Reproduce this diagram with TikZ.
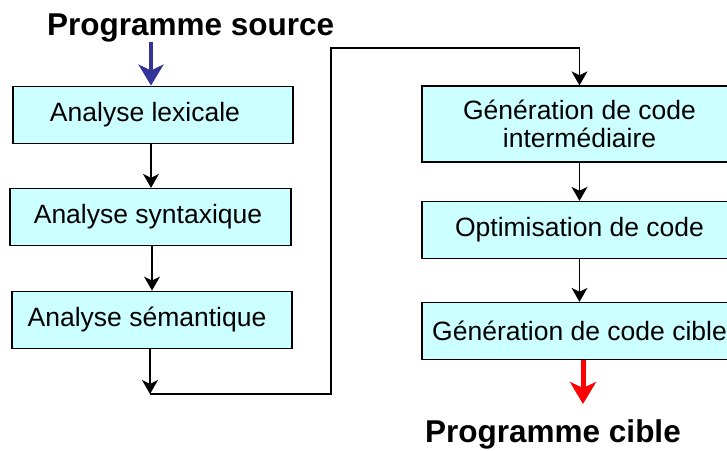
\documentclass[tikz,border=0pt]{standalone}
\usepackage{fontspec}
\setmainfont{Liberation Sans}
\usetikzlibrary{arrows.meta}
\definecolor{phasefill}{RGB}{204,255,255}
\definecolor{srcblue}{RGB}{51,51,153}
\begin{document}
\begin{tikzpicture}[x=1pt, y=-1pt]
% compilation phases, coordinates in pixels
\providecommand{\phaseLineWidth}{1.3pt}
\providecommand{\phaseFontSize}{\fontsize{26.5}{28.5}\selectfont}
\providecommand{\titleFontSize}{\fontsize{31.5}{34}\selectfont\bfseries}
\tikzset{
  phase/.style={draw=black, fill=phasefill, line width=\phaseLineWidth, inner sep=0pt,
    minimum height=57pt, font=\phaseFontSize, align=center},
  flow/.style={draw=black, line width=1.3pt, -{Stealth[length=14pt, width=16pt, inset=4pt]}},
  link/.style={draw=black, line width=1.3pt},
  title/.style={inner sep=0pt, anchor=base west, font=\titleFontSize}
}
\clip (0,0) rectangle (727,450);
\fill[white] (0,0) rectangle (727,450);
% Titles
\node[title] (src) at (47,35) {Programme source};
\node[title] (tgt) at (425,442.5) {Programme cible};
% Left column
\node[phase, minimum width=280pt] (lex) at (153,114.7) {Analyse lexicale\hspace{16pt}};
\node[phase, minimum width=281pt] (syn) at (150.5,217) {Analyse syntaxique\hspace{5pt}};
\node[phase, minimum width=280pt] (sem) at (152,319.7) {Analyse sémantique\hspace{10pt}};
% Right column
\node[phase, minimum width=315pt, minimum height=76pt] (gci) at (579.5,124) {Génération de code\\intermédiaire};
\node[phase, minimum width=315pt] (opt) at (579.5,230) {Optimisation de code};
\node[phase, minimum width=315pt] (gcc) at (579.5,331) {Génération de code cible};
% Turn points of the long connector
\coordinate (srcend) at (151,42);
\coordinate (semend) at (150,394);
\coordinate (bottom) at (331,394);
\coordinate (top) at (331,48);
\coordinate (topend) at (gci.north |- top);
\coordinate (gccend) at (583,404);
% Connectors
\draw[line width=4pt, draw=srcblue, -{Stealth[length=21pt, width=25pt, inset=6pt]}] (srcend) -- (lex.north -| srcend);
\draw[flow] (lex.south -| 151,0) -- (syn.north -| 151,0);
\draw[flow] (syn.south -| 152,0) -- (sem.north -| 152,0);
\draw[flow] (sem.south -| semend) -- (semend);
\draw[link] (semend) -- (bottom) -- (top) -- (topend);
\draw[flow] (topend) -- (gci.north);
\draw[flow] (gci.south) -- (opt.north);
\draw[flow] (opt.south) -- (gcc.north);
\draw[line width=5pt, draw=red, -{Stealth[length=22pt, width=26pt, inset=6pt]}] (gcc.south -| gccend) -- (gccend);
\end{tikzpicture}
\end{document}
